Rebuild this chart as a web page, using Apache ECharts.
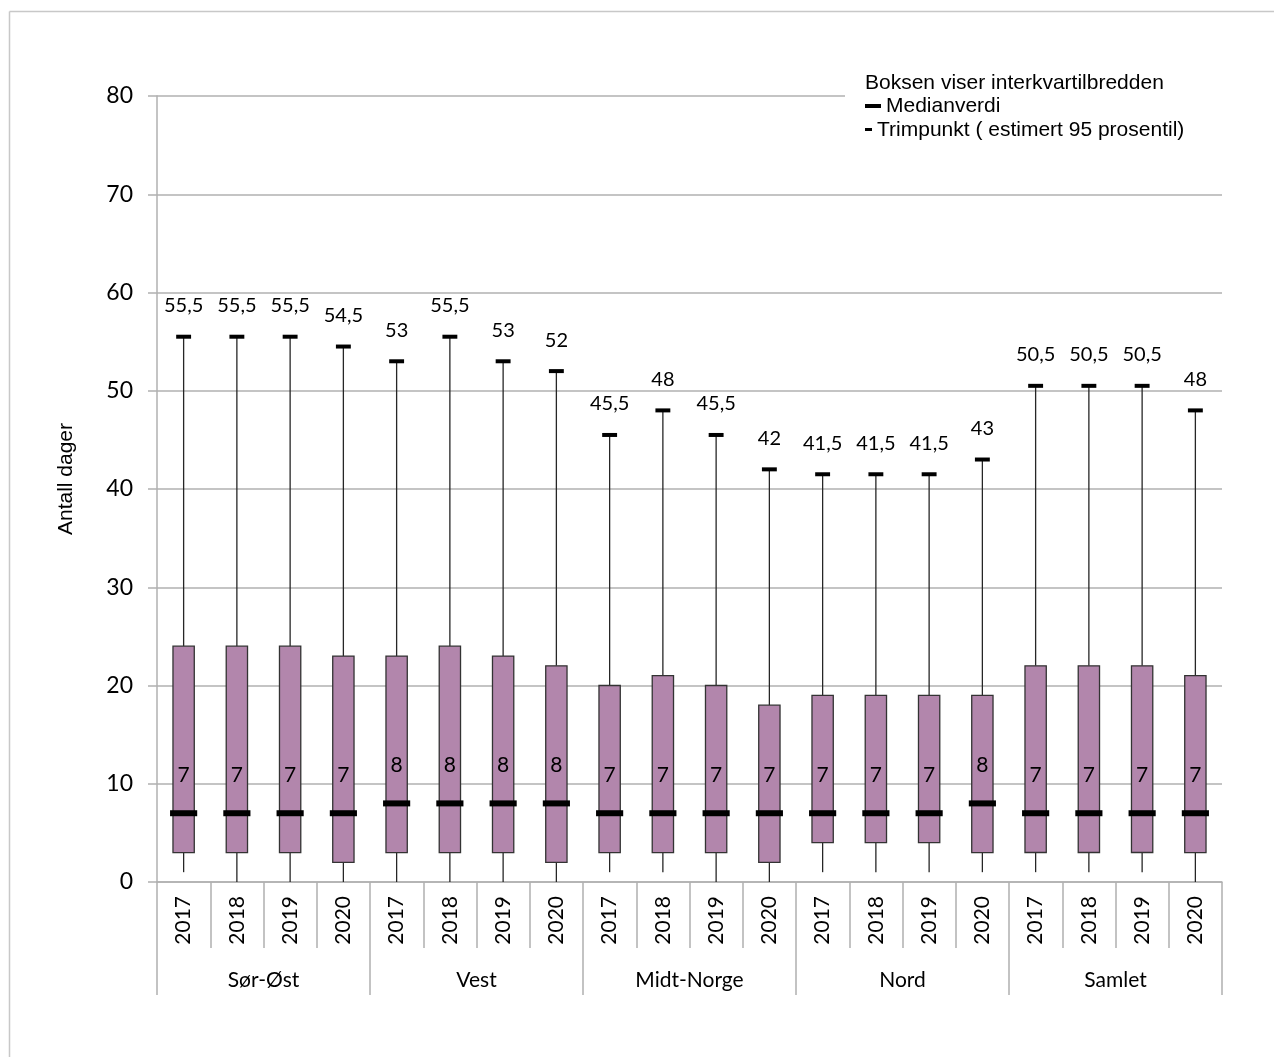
<!DOCTYPE html>
<html>
<head>
<meta charset="utf-8">
<script src="https://cdn.jsdelivr.net/npm/echarts@6/dist/echarts.min.js"></script>
<style>
html,body{margin:0;padding:0;background:#fff;}
#chart{width:1274px;height:1057px;}
</style>
</head>
<body>
<div id="chart"></div>
<script>
const years = ['2017','2018','2019','2020','2017','2018','2019','2020','2017','2018','2019','2020','2017','2018','2019','2020','2017','2018','2019','2020'];
const groups = ['Sør-Øst','Vest','Midt-Norge','Nord','Samlet'];
const lowValues = [1,0,0,0, 0,0,0,0, 1,1,0,0, 1,1,1,1, 1,1,1,0];
const q1Values = [3,3,3,2, 3,3,3,2, 3,3,3,2, 4,4,4,3, 3,3,3,3];
const medianValues = [7,7,7,7, 8,8,8,8, 7,7,7,7, 7,7,7,8, 7,7,7,7];
const q3Values = [24,24,24,23, 23,24,23,22, 20,21,20,18, 19,19,19,19, 22,22,22,21];
const trimValues = [55.5,55.5,55.5,54.5, 53,55.5,53,52, 45.5,48,45.5,42, 41.5,41.5,41.5,43, 50.5,50.5,50.5,48];
const yTicks = [0,10,20,30,40,50,60,70,80];

const data = years.map((y, i) => [i, lowValues[i], q1Values[i], medianValues[i], q3Values[i], trimValues[i]]);
const fmt = v => String(v).replace('.', ',');
const labelFont = 'Lato, "Open Sans", sans-serif';
const arialFont = '"Liberation Sans", Arial, sans-serif';

function renderItem(params, api) {
  const idx = api.value(0);
  const x = api.coord([idx, 0])[0];
  const yLow = api.coord([idx, api.value(1)])[1];
  const yQ1 = api.coord([idx, api.value(2)])[1];
  const yMed = api.coord([idx, api.value(3)])[1];
  const yQ3 = api.coord([idx, api.value(4)])[1];
  const yHigh = api.coord([idx, api.value(5)])[1];
  const band = api.size([1, 0])[0];
  const boxW = band * 0.40;
  const medW = band * 0.51;
  const capW = band * 0.28;
  const lineStyle = {stroke: '#262626', lineWidth: 1.3};
  return {
    type: 'group',
    children: [
      {type: 'line', shape: {x1: x, y1: yLow, x2: x, y2: yQ1}, style: lineStyle},
      {type: 'line', shape: {x1: x, y1: yQ3, x2: x, y2: yHigh}, style: lineStyle},
      {type: 'rect', shape: {x: x - boxW / 2, y: yQ3, width: boxW, height: yQ1 - yQ3},
        style: {fill: '#b286ac', stroke: '#333333', lineWidth: 1.3}},
      {type: 'rect', shape: {x: x - medW / 2, y: yMed - 3, width: medW, height: 6}, style: {fill: '#000'}},
      {type: 'rect', shape: {x: x - capW / 2, y: yHigh - 2, width: capW, height: 4}, style: {fill: '#000'}},
      {type: 'text', style: {text: fmt(api.value(5)), x: x, y: yHigh - 31, align: 'center', verticalAlign: 'middle',
        fill: '#000', font: '20px ' + labelFont}},
      {type: 'text', style: {text: fmt(api.value(3)), x: x, y: yMed - 38, align: 'center', verticalAlign: 'middle',
        fill: '#000', font: '21px ' + labelFont}}
    ]
  };
}

const chart = echarts.init(document.getElementById('chart'));
chart.setOption({
  animation: false,
  backgroundColor: '#fff',
  grid: {left: 157, right: 52, top: 96, bottom: 175, containLabel: false},
  xAxis: [
    {
      type: 'category', data: years, boundaryGap: true,
      axisLine: {show: true, lineStyle: {color: '#b0b0b0', width: 1.5}},
      axisTick: {show: true, interval: 0, length: 66, lineStyle: {color: '#b0b0b0', width: 1.5}},
      axisLabel: {interval: 0, rotate: 90, margin: 14, fontSize: 21, fontFamily: labelFont, color: '#000'},
      splitLine: {show: false}
    },
    {
      type: 'category', data: groups, boundaryGap: true, position: 'bottom',
      axisLine: {show: false},
      axisTick: {show: true, interval: 0, length: 113, lineStyle: {color: '#b0b0b0', width: 1.5}},
      axisLabel: {interval: 0, margin: 88, fontSize: 21, fontFamily: labelFont, color: '#000'},
      splitLine: {show: false}
    }
  ],
  yAxis: {
    type: 'value', min: 0, max: 80, interval: 10,
    name: 'Antall dager', nameLocation: 'middle', nameGap: 80, nameRotate: 90,
    nameTextStyle: {fontSize: 21, fontFamily: arialFont, color: '#000', padding: [0, 0, 0, 20]},
    axisLine: {show: true, lineStyle: {color: '#b0b0b0', width: 1.5}},
    axisTick: {show: true, inside: false, length: 9, lineStyle: {color: '#b0b0b0', width: 1.5}},
    axisLabel: {margin: 24, fontSize: 23, fontFamily: labelFont, color: '#000',
      formatter: v => yTicks.includes(v) ? String(v) : ''},
    splitLine: {show: true, lineStyle: {color: '#b0b0b0', width: 1.5}}
  },
  series: [{
    type: 'custom', xAxisIndex: 0, yAxisIndex: 0,
    renderItem: renderItem,
    encode: {x: 0, y: [1, 2, 3, 4, 5]},
    data: data, z: 10
  }],
  graphic: [
    {type: 'line', shape: {x1: 9.5, y1: 11.5, x2: 1274, y2: 11.5}, style: {stroke: '#c8c8c8', lineWidth: 1.5}, z: 100},
    {type: 'line', shape: {x1: 9.5, y1: 11.5, x2: 9.5, y2: 1057}, style: {stroke: '#c8c8c8', lineWidth: 1.5}, z: 100},
    {type: 'rect', shape: {x: 845, y: 70, width: 385, height: 70}, style: {fill: '#fff'}, z: 100},
    {type: 'text', style: {text: 'Boksen viser interkvartilbredden', x: 865, y: 83, verticalAlign: 'middle',
      font: '21px ' + arialFont, fill: '#000'}, z: 101},
    {type: 'rect', shape: {x: 865, y: 104, width: 16, height: 4}, style: {fill: '#000'}, z: 101},
    {type: 'text', style: {text: 'Medianverdi', x: 886, y: 106, verticalAlign: 'middle',
      font: '21px ' + arialFont, fill: '#000'}, z: 101},
    {type: 'rect', shape: {x: 865, y: 128, width: 7, height: 3}, style: {fill: '#000'}, z: 101},
    {type: 'text', style: {text: 'Trimpunkt ( estimert 95 prosentil)', x: 877, y: 130, verticalAlign: 'middle',
      font: '21px ' + arialFont, fill: '#000'}, z: 101}
  ]
});
</script>
</body>
</html>
